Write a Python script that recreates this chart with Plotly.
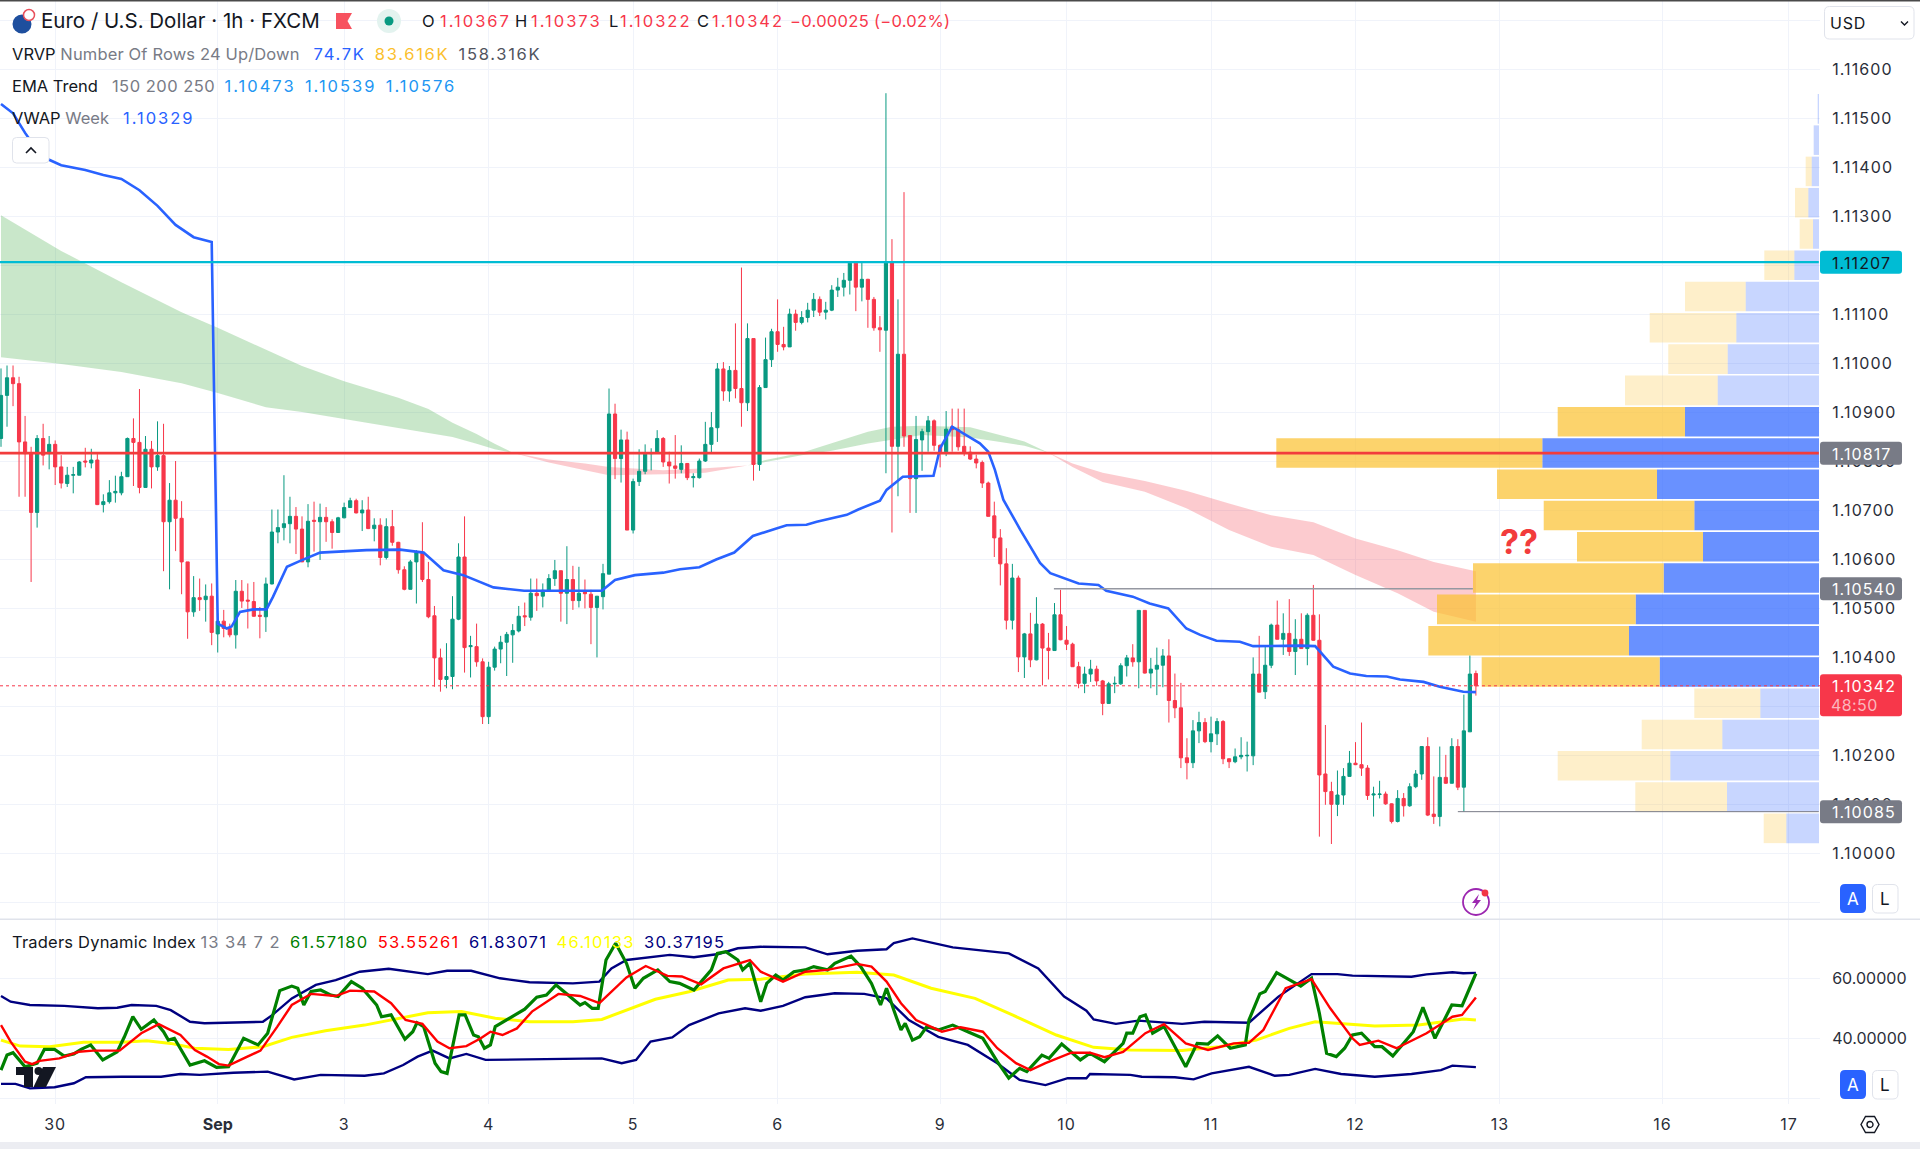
import plotly.graph_objects as go

# ---------- DATA ----------
BASE = 1.10000  # prices below are held as points (1e-5) above this base
open_pts = [847,935,971,959,840,816,696,847,816,835,789,755,772,772,801,797,803,712,718,736,736,769,847,839,747,825,789,812,677,721,684,595,493,522,518,525,448,474,459,446,535,517,514,486,483,550,656,665,673,688,662,595,680,677,686,677,655,685,706,720,695,701,663,670,604,667,635,579,539,595,614,559,485,399,355,361,478,605,422,422,391,279,380,417,431,446,454,485,482,531,525,537,561,577,531,559,516,534,529,502,524,570,897,806,844,660,759,780,816,818,847,799,791,784,796,767,767,801,835,869,989,944,986,949,920,1051,794,951,1008,1065,1039,1034,1101,1084,1094,1109,1131,1105,1109,1150,1156,1170,1205,1156,1172,1131,1073,1068,1207,831,1019,853,765,844,861,883,833,820,871,865,831,819,805,798,756,689,644,591,476,562,401,448,395,468,419,414,487,435,427,381,347,366,376,352,306,346,346,383,399,391,496,368,376,384,403,312,297,195,185,250,267,228,244,269,193,187,197,199,199,366,330,384,466,437,449,412,437,418,486,435,162,126,100,119,157,184,181,174,119,120,121,101,65,112,97,136,162,218,80,75,155,143,218,135,248,367]
close_pts = [935,971,959,840,816,696,847,813,835,789,756,772,773,799,799,803,712,718,736,739,769,847,839,747,825,789,812,677,721,684,595,493,522,518,525,451,474,459,446,535,515,515,484,484,550,656,665,673,688,662,595,678,678,686,677,655,685,706,720,695,701,663,670,604,667,635,579,539,595,614,559,483,399,355,361,478,605,420,424,391,279,380,417,431,447,455,484,483,531,526,537,561,577,531,559,516,531,530,502,525,571,897,806,844,660,759,780,815,818,847,799,791,786,796,767,769,801,835,869,989,944,986,949,920,1051,794,951,1008,1065,1039,1034,1101,1084,1094,1109,1131,1105,1109,1150,1156,1170,1205,1156,1172,1131,1073,1069,1205,831,1019,852,765,845,861,883,833,820,866,865,830,819,805,797,756,688,644,591,476,562,401,448,395,468,419,414,487,436,427,381,347,366,376,352,306,346,347,383,399,391,496,368,376,384,403,312,297,195,185,250,267,228,244,269,193,187,197,200,200,366,329,384,466,437,449,412,437,418,486,435,160,126,100,119,157,184,181,174,118,121,121,101,65,112,97,136,162,218,78,75,155,143,218,135,250,366,342]
high_pts = [990,996,996,973,893,830,854,877,852,843,813,789,789,801,828,826,815,733,762,771,779,849,888,948,852,842,882,877,756,801,719,595,566,561,549,551,490,497,469,558,558,551,554,503,563,702,702,772,728,707,688,713,718,714,707,682,687,716,726,724,721,728,684,684,684,701,636,586,599,619,676,595,505,418,429,525,633,688,444,469,398,391,422,444,452,468,505,512,561,561,551,570,599,577,627,587,585,559,538,525,591,949,918,865,861,765,825,835,827,864,850,820,854,833,797,776,806,881,901,1001,1003,995,1082,1196,1082,1051,956,1053,1071,1131,1075,1112,1110,1107,1124,1144,1137,1126,1160,1175,1185,1207,1205,1206,1173,1136,1097,1552,1254,1131,1350,853,893,867,893,886,835,903,908,908,908,831,814,802,759,718,662,623,591,567,450,491,523,470,450,511,538,464,430,391,381,395,383,354,350,361,388,405,427,496,496,399,420,417,437,367,348,235,272,289,276,279,276,272,194,214,237,228,400,444,423,469,516,490,519,478,490,490,548,488,262,146,169,174,209,227,267,180,136,148,126,102,129,123,143,170,218,237,157,218,201,235,233,324,404,373]
low_pts = [830,871,913,728,728,554,665,792,784,752,745,748,735,772,788,786,711,696,714,716,731,769,750,735,747,745,781,576,539,617,529,438,483,495,473,425,410,441,441,418,501,459,483,439,452,549,633,639,633,611,595,584,616,599,636,622,654,684,706,694,658,662,637,588,600,628,571,537,539,510,554,480,340,330,337,335,476,369,359,381,264,264,373,388,362,389,451,464,475,495,502,537,546,473,468,497,502,500,427,400,498,570,764,757,660,653,750,774,782,818,789,755,765,776,762,747,765,799,816,840,924,922,929,871,903,761,781,951,993,1024,1027,1034,1067,1080,1084,1095,1097,1090,1107,1136,1137,1141,1107,1127,1073,1067,1024,776,655,729,830,695,695,781,820,822,788,811,820,822,811,803,786,746,688,605,547,457,457,370,358,380,394,343,355,414,435,415,381,337,327,350,342,282,305,327,344,361,381,337,367,337,323,339,267,276,174,151,174,225,225,206,221,182,174,184,192,167,180,329,315,378,437,405,403,364,418,384,434,34,99,19,76,99,157,180,158,109,75,112,99,61,63,75,95,133,150,76,60,55,142,143,129,85,248,322]

ema_idx  = [0,10,20,30,36,44,50,57,66,71,75,79,82,85,91,97,101,110,117,124,127,133,138,144,148,153,161,166,170,174,178,183,190,197,204,211,218,225,232,238,245]
ema_fast = [1303,1230,1166,1105,1073,1028,995,964,930,907,879,856,836,818,798,782,772,774,777,792,803,818,838,861,871,873,870,854,841,818,789,758,738,704,660,626,609,568,531,493,473]
ema_slow = [1013,999,983,960,940,911,901,887,868,858,850,836,825,818,804,796,789,782,786,792,799,813,822,837,844,854,849,840,832,818,796,777,760,740,714,690,676,643,619,595,576]

vwap_idx = [0,2,4,6,8,10,14,17,20,23,26,29,32,35,36,37.5,38.3,39.7,41.9,44.1,45.2,47.5,49.7,53,60.7,66.3,70.2,73.5,76.8,81.8,86.9,99.8,102,105.3,110,112.8,116,118.8,121.8,124.9,128.8,130.5,133.8,135.5,140.5,142.4,146,147.1,149.8,154.9,156,158,162.6,164,165.1,166.5,169.3,172.6,174.3,177.6,179,182.3,183.6,188,190.8,193.9,196.9,199.2,201.9,205.8,208,215.8,218.3,221.3,224.1,226.8,230.2,232.4,236.3,239,242.9,245]
vwap_pts = [1530,1511,1471,1436,1416,1405,1395,1385,1377,1354,1322,1283,1258,1248,469,459,463,493,498,498,524,585,597,614,619,620,614,578,568,543,536,536,558,568,573,580,584,600,614,648,663,670,671,677,691,702,720,742,769,771,827,871,837,820,783,722,661,593,572,557,551,548,536,524,510,500,459,446,434,432,423,424,423,381,367,362,361,355,350,340,330,329]

rsi_idx = [0,1,2,3.1,4,5,6,7.2,8.9,10.5,12.1,13.3,14.9,16.9,19.3,20.5,21.9,23.3,25.4,27,27.8,28.8,31.4,33.8,35.8,37.8,40.3,42.7,44.3,46.3,48.3,49.3,50.3,51.5,53.1,54.8,56,58.2,60,62.4,63.2,64.8,67.1,68.4,69.1,70.2,72.1,73.1,74.1,76.1,77.1,78.5,79.3,80.3,81.3,82.1,84.5,87,89,90.6,92.2,94.6,96.2,97,98.2,99.2,100.5,102.1,103.9,105.3,106.7,109.1,111.1,112.7,115.1,118,119,120.4,122.4,123.2,124.4,126.2,127.2,128.7,129.9,131.7,133.6,135,137.3,138.5,141.2,142.8,144.6,146.1,147.1,148.3,149.5,150.2,151.4,152.6,153.8,155.7,158.1,160.6,163.1,165.5,167.4,169.2,170.4,172.9,174.1,176.2,177.8,179.3,180.9,183.3,186.4,187,188,189.2,190.1,191.3,193.2,196.8,198.7,200.5,202.1,204.2,206.7,207.3,209.1,210,211.9,214.6,215.9,217.7,219,220.2,221.8,223.2,224.5,226,228.2,229.4,231.2,233.7,234.6,236.2,238.2,241,242.7,245]
rsi_val = [29.4,34.4,35.2,32.8,30.5,31.1,31.7,36.3,36.3,34.1,34.8,36.3,37.8,32.8,35.5,40.5,47.2,43,46.1,42.2,39.4,40,31.1,32.5,30.3,30.5,40,37.8,41.7,55.9,57.4,56.7,51.1,55.6,56.1,54.4,53.9,58.9,56.7,51.1,47.2,47.8,39.7,42.2,45.2,43.9,31.7,28.9,28.3,47.8,47.8,41.1,40.5,36.7,37.8,43.9,46.7,49.7,53.7,54.4,57.8,53.9,51.1,51.9,50,50,66.1,71.7,65,56.7,60,62.8,58.9,58.3,56.1,62.8,68.3,68.9,66.1,62.8,65,52.2,58.3,61.1,59.4,62.2,62.8,63.9,62.8,65,67.4,63.9,58.3,51.1,56.7,49.4,42.8,45,39.4,40.5,43.9,42.8,44.4,42.2,40,32.2,26.7,30,28.9,34.4,33.3,38.1,35.5,32.8,35,32.2,38.3,41.7,41.7,47.2,47.8,41.7,43.9,30.5,38.3,38.1,40.8,36.7,37.8,46.1,54.8,55.6,61.9,58.9,57.4,60,48.3,35,33.9,36.7,41.1,41.7,37.2,37.2,34.1,40,42.2,50.3,40,51.1,50.8,61.6]

signal_idx = [0,1.6,4,5.2,6.4,9.7,12.9,15.3,19.7,23.3,26.2,29.8,32.2,34.2,36.2,37.8,40.3,43.1,45.9,48.3,51.5,55.6,58,62,64.8,67.2,70,72.5,74.5,77.3,79.7,81.3,83.3,85.7,88.2,91,92.6,96.2,99.4,103.9,107.1,110.7,113.1,116.3,120,124.4,126.2,129.9,133.6,137.3,142.2,144.6,147.1,149.5,152,156.3,159.4,163.1,165.5,168.6,171,173.5,177.8,180.9,183.3,186.4,190.1,193.2,196.8,200.5,204.8,207.3,209.7,213.4,217.7,220.8,224.5,225.7,228.8,231.8,236.8,241.1,242.7,245]
signal_val = [44.4,38.9,32.2,31.4,32.5,33.3,35.5,35.9,35.9,41.7,44.7,41.1,36.1,33.9,31.4,30.9,33.3,35.9,43.9,51.1,54.8,54.1,55.9,55.6,51.7,46.1,44.8,38.9,36.7,37.4,40,42.2,41.1,43.3,48.9,52.8,54.8,54.1,51.7,60.3,64.1,60.8,60.6,58,63.3,66.1,62.2,58.9,62.2,62.8,64.8,63.9,58.9,51.7,46.1,42.2,43.7,42.2,36.7,31.7,29.4,31.7,35.2,35.2,33.7,35.5,41.7,44.7,38.3,36.1,38.3,38.5,42.8,56.7,59.7,50,40,37.8,39.2,36.7,41.7,47.2,47.8,53.6]

mid_idx = [0,3.2,8.1,13.7,20.1,24.2,28.2,32.2,37.8,43.5,48.3,53.9,60.4,66,70.9,76.5,82.1,87.8,95,99.8,103.9,108.7,114.3,120.8,126.2,133.6,142.2,148.3,154.5,161.8,168,175.3,181.5,187.6,196.2,202.4,208.5,214,218.3,228.2,235.5,242.9,245]
mid_val = [39.4,37.4,37.2,38.7,38.7,39.2,38.3,36.7,36.3,37.2,40.3,42.5,44.4,46.7,48.5,48.9,46.7,45.5,45.5,46.3,49.4,53,55.5,59.4,59.7,61.4,62,61.1,56.7,53.3,47.8,41.1,37,36.1,35.9,37.2,39.4,43.3,45.5,44.1,44.4,46.4,46.1]

upper_idx = [0,1.6,4.8,10.5,16.1,19.3,21.7,25.8,28.2,31.4,33.8,43.5,45.1,48.3,52.3,55.6,59.6,64.4,70.9,74.1,78.1,82.9,87.8,95,99.4,101.4,103.9,107.9,111.1,115.1,119.2,122.4,126.2,133.6,137.3,142.2,147.1,148.3,151.4,158.1,167.4,172.3,176.6,180.3,181.5,185.2,188.9,196.2,199.9,207.3,212.2,217.7,222,224.5,234.3,236.8,241.1,242.9,245]
upper_val = [54.1,52.2,51.1,50.8,50,50.2,51.1,50.8,49.4,45.5,45,45.5,47.8,53.3,57.8,59.4,62.2,63.2,61.4,62.5,62.5,60,58.7,58.3,58.9,63.3,66.1,67,67.8,67,68.1,70,70.5,70.3,68,69.2,69.7,71.7,73.3,70.3,68.3,63.3,53.9,49.2,46.3,44.8,45.9,44.8,45.5,45.2,53.9,61.4,61.4,60.9,60.5,61.3,62,61.7,61.8]

lower_idx = [0,2.4,4.8,8.9,12.1,14.1,20.1,26.6,29.8,33,38.6,44.3,48.7,53.1,60.4,63.6,66.8,69.2,71.7,74.5,77.3,80.5,99.8,103.1,105.5,107.9,111.5,114.3,119.2,123.6,126.2,129.9,133.6,138.5,143.4,147.1,150.8,155.7,160.6,165.5,169.2,173.5,177.2,180.3,180.9,187.6,189.5,195,198.1,201.1,207.3,211.6,214,218.3,222.6,228.2,234.3,239.2,241.1,245]
lower_val = [24.8,24.8,23.3,23.7,25,27,27.2,27.2,28.1,27.8,28.5,28.9,26.3,27.8,27.5,28.3,31.1,33.9,35.9,33.3,34.8,32.8,33.3,31.7,32.8,38.9,40.3,44.4,48.3,50,49.2,50.8,53.7,55,54.8,53.3,46.1,40.5,37.8,31.7,26.1,24.4,26.7,26.7,28.1,27.8,27.2,27,26.3,28.3,30.5,27.5,27.8,29.8,28.1,27.2,28.1,29.4,30.9,30.4]

# volume profile, lowest row first
profile_low, profile_high = 1.10019, 1.11552
vol_blue = [1046,2944,4758,3094,1878,5098,6080,5866,4970,3712,3990,5184,8854,4288,3242,2922,2646,2346,790,192,342,234,170,42]
vol_gold = [723,2934,3603,2579,2112,5696,6422,6358,6102,4032,4819,5120,8512,4074,2966,1901,2771,1942,960,426,426,192,0,0]
value_area_rows = (5, 13)

resistance, poc_level, last_price = 1.11207, 1.10817, 1.10342
swing_high_level, swing_low_level = 1.10540, 1.10085

price_ticks = [1.099,1.100,1.101,1.102,1.103,1.104,1.105,1.106,1.107,1.108,1.109,1.110,1.111,1.112,1.113,1.114,1.115,1.116,1.117]
hidden_price_ticks = (1.099, 1.103, 1.112, 1.117)   # blank or fully covered by a badge in the reference
tdi_ticks = [20,40,60]
date_idx = [9,36,57,81,105,129,156,177,201,225,249,276,297]
date_labels = ['30','Sep','3','4','5','6','9','10','11','12','13','16','17']

# ---------- GEOMETRY ----------
W, H = 1920, 1149
PW = 1820                       # plot right edge in px
PANE = 919; BOT = 1104
STEP = 6.02                     # px per bar
xr = [-1/STEP, (PW-1)/STEP]
def y_px_to_price(y): return 1.10000 + (853.3-y)/48975
yr = [y_px_to_price(PANE), y_px_to_price(0)]
yr2 = [60-(BOT-978.3)/3, 60+(978.3-PANE)/3]
pr = lambda a: [BASE + v/1e5 for v in a]
def py(y): return 1 - y/H
def pxx(x): return x/PW          # paper x runs over the plot width
def price_y(p): return 853.3-(p-1.10000)*48975
FONT = 'Inter'
DARK = '#131722'; GREY = '#787b86'
UP = '#089981'; DOWN = '#f7374a'

fig = go.Figure()

# EMA ribbon, split at crossings
seg_x, seg_f, seg_s = [], [], []
def flush():
    if len(seg_x) > 1:
        up = sum(seg_f) >= sum(seg_s)
        fig.add_trace(go.Scatter(x=seg_x+seg_x[::-1], y=pr(seg_f)+pr(seg_s)[::-1], mode='lines', fill='toself',
            line=dict(width=0), fillcolor='rgba(76,175,80,0.3)' if up else 'rgba(242,54,69,0.26)',
            xaxis='x', yaxis='y', hoverinfo='skip', showlegend=False))
for i, f, s in zip(ema_idx, ema_fast, ema_slow):
    seg_x.append(i); seg_f.append(f); seg_s.append(s)
    if f == s:
        flush(); seg_x, seg_f, seg_s = [i], [f], [s]
flush()

# candles and VWAP
bars = list(range(len(open_pts)))
fig.add_trace(go.Candlestick(x=bars, open=pr(open_pts), high=pr(high_pts), low=pr(low_pts), close=pr(close_pts),
    increasing=dict(line=dict(color=UP, width=1), fillcolor=UP),
    decreasing=dict(line=dict(color=DOWN, width=1), fillcolor=DOWN),
    whiskerwidth=0, xaxis='x3', yaxis='y', showlegend=False, hoverinfo='skip'))
fig.add_trace(go.Scatter(x=vwap_idx, y=pr(vwap_pts), mode='lines', line=dict(color='#2962ff', width=2.6),
    xaxis='x3', yaxis='y', showlegend=False, hoverinfo='skip'))

# volume profile
row_h = (profile_high-profile_low)/len(vol_blue)
row_y = [profile_low+(k+.5)*row_h for k in range(len(vol_blue))]
in_va = [value_area_rows[0] <= k <= value_area_rows[1] for k in range(len(vol_blue))]
fig.add_trace(go.Bar(y=row_y, x=vol_blue, orientation='h', width=row_h*0.945, xaxis='x4', yaxis='y',
    marker=dict(color=['rgba(41,98,255,0.7)' if v else 'rgba(41,98,255,0.26)' for v in in_va], line=dict(width=0)),
    showlegend=False, hoverinfo='skip'))
fig.add_trace(go.Bar(y=row_y, x=vol_gold, base=vol_blue, orientation='h', width=row_h*0.945, xaxis='x4', yaxis='y',
    marker=dict(color=['rgba(251,192,45,0.7)' if v else 'rgba(251,192,45,0.25)' for v in in_va], line=dict(width=0)),
    showlegend=False, hoverinfo='skip'))

# level lines
def level(x, p, color, width, dash='solid'):
    fig.add_trace(go.Scatter(x=x, y=[p, p], mode='lines', line=dict(color=color, width=width, dash=dash),
        xaxis='x5', yaxis='y', showlegend=False, hoverinfo='skip'))
level(xr, last_price, DOWN, 1, 'dot')
level([174.9, 244.5], swing_high_level, '#9598a1', 1.5)
level([242, xr[1]-0.2], swing_low_level, '#787b86', 1)
level([xr[0], xr[1]-0.2], resistance, '#00bcd4', 2.2)
level([xr[0], xr[1]-0.2], poc_level, '#f23c3c', 2.6)

# TDI pane
for x, y, c, w in [(upper_idx, upper_val, '#000080', 2.4), (lower_idx, lower_val, '#000080', 2.4),
                   (mid_idx, mid_val, '#ffff00', 3), (rsi_idx, rsi_val, '#008000', 3.2), (signal_idx, signal_val, '#ff0000', 2.4)]:
    fig.add_trace(go.Scatter(x=x, y=y, mode='lines', line=dict(color=c, width=w), xaxis='x2', yaxis='y2',
        showlegend=False, hoverinfo='skip'))

# ---------- LAYOUT ----------
GRID = '#f0f3fa'
shapes = []; ann = []
def rrect(x0, y0, x1, y1, fill, line=None, r=3, layer='above'):
    p = (f'M{pxx(x0+r)},{py(y0)} L{pxx(x1-r)},{py(y0)} Q{pxx(x1)},{py(y0)} {pxx(x1)},{py(y0+r)} '
         f'L{pxx(x1)},{py(y1-r)} Q{pxx(x1)},{py(y1)} {pxx(x1-r)},{py(y1)} L{pxx(x0+r)},{py(y1)} '
         f'Q{pxx(x0)},{py(y1)} {pxx(x0)},{py(y1-r)} L{pxx(x0)},{py(y0+r)} Q{pxx(x0)},{py(y0)} {pxx(x0+r)},{py(y0)} Z')
    shapes.append(dict(type='path', path=p, xref='paper', yref='paper', fillcolor=fill,
        line=dict(color=line or fill, width=1 if line else 0), layer=layer))
def poly(pts, fill=None, line=None, w=1.5, close=True):
    p = 'M' + ' L'.join(f'{pxx(a)},{py(b)}' for a, b in pts) + (' Z' if close else '')
    shapes.append(dict(type='path', path=p, xref='paper', yref='paper', fillcolor=fill or 'rgba(0,0,0,0)',
        line=dict(color=line or fill, width=w if line else 0), layer='above'))
def circ(cx, cy, r, fill=None, line=None, w=1.5):
    shapes.append(dict(type='circle', xref='paper', yref='paper', x0=pxx(cx-r), x1=pxx(cx+r), y0=py(cy+r), y1=py(cy-r),
        fillcolor=fill or 'rgba(0,0,0,0)', line=dict(color=line or fill, width=w if line else 0), layer='above'))
def txt(x, y, s, size=14, color=DARK, anchor='left', **k):
    ann.append(dict(x=pxx(x), y=py(y), xref='paper', yref='paper', text=s, showarrow=False, xanchor=anchor, yanchor='middle',
        align='left', borderpad=0, borderwidth=0, font=dict(family=FONT, size=size, color=color), **k))
def ls(t, px=1.1): return f'<span style="letter-spacing:{px}px">{t}</span>'
def sp(t, c, px=0): return f'<span style="color:{c};letter-spacing:{px}px">{t}</span>'

# frame pieces
rrect(0, 0, W, 1.4, '#4a4a4a', r=0)
rrect(0, PANE-0.5, W, PANE+1, '#e0e3eb', r=0)
rrect(0, 1142, W, H, '#ecedf2', r=0)

# price badges
for p, fill, tc in [(resistance, '#00bcd4', DARK), (poc_level, '#787b86', '#ffffff'), (swing_high_level, '#787b86', '#ffffff'), (swing_low_level, '#787b86', '#ffffff')]:
    yc = price_y(p)
    rrect(1820, yc-11.5, 1902, yc+11.5, fill)
    txt(1832, yc+0.5, ls(f'{p:.5f}'), 16, tc)
yc = price_y(last_price)
rrect(1820, yc-11.5, 1902, yc+30.5, DOWN)
txt(1832, yc+0.5, ls(f'{last_price:.5f}'), 16, '#ffffff')
txt(1831, yc+19, ls('48:50', 0.4), 16, '#fbb6bd')

# ?? annotation
txt(1519, 541, '<b>??</b>', 34, '#f23c3c', anchor='center')

# legend rows
txt(41, 21, 'Euro / U.S. Dollar · 1h · FXCM', 20.5, DARK)
for x, s, c in [(422,'O',DARK),(440,ls('1.10367',2),DOWN),(515,'H',DARK),(531,ls('1.10373',2),DOWN),(609,'L',DARK),(620,ls('1.10322',2),DOWN),
                (697,'C',DARK),(712,ls('1.10342',2),DOWN),(790,ls('−0.00025 (−0.02%)',0.3),DOWN)]:
    txt(x, 21, s, 16.5, c)
S = '\u00a0\u00a0'
S3 = '\u00a0\u00a0\u00a0'
N = 2.0  # extra spacing of the indicator read-outs
txt(12, 54, sp('VRVP', DARK)+' '+sp('Number Of Rows 24 Up/Down', GREY, 0.15)+S3+sp('74.7K', '#2962ff', 1.7)+S+sp('83.616K', '#fbc02d', 1.7)+S+sp('158.316K', '#50535e', 1.7), 16.5)
txt(12, 86, sp('EMA Trend', DARK)+S3+sp('150 200 250', GREY, 0.5)+S+sp('1.10473', '#2196f3', N)+S+sp('1.10539', '#2196f3', N)+S+sp('1.10576', '#2196f3', N), 16.5)
txt(12, 118, sp('VWAP', DARK)+' '+sp('Week', GREY)+S3+sp('1.10329', '#2962ff', N), 16.5)
T = 1.3
txt(12, 942, sp('Traders Dynamic Index', DARK, 0.2)+' '+sp('13 34 7 2', GREY, 1)+S+sp('61.57180', '#008000', T)+S+sp('53.55261', '#ff0000', T)+S+sp('61.83071', '#000080', T)+S+sp('46.10133', '#ffff00', T)+S+sp('30.37195', '#000080', T), 16.5)

# symbol icon
circ(22, 24, 9.5, '#1e4f9e')
circ(29, 15, 5.5, '#ffffff', '#e8505b', 1.5)
# flag + market dot
poly([(336,13),(352,13),(347.5,21),(352,29),(336,29)], '#f7525f')
circ(389, 21, 12, '#e3f3ef')
circ(389, 21, 4.5, UP)
# collapse button
rrect(12.5, 137.5, 49, 163, '#ffffff', '#e0e3eb', 4)
poly([(26,153),(31,148),(36,153)], None, DARK, 1.6, close=False)
# currency selector
rrect(1824.5, 6.5, 1914, 39, '#ffffff', '#e0e3eb', 5)
txt(1830, 23, ls('USD',0.8), 16, DARK)
poly([(1901,21.5),(1904.5,25),(1908,21.5)], None, DARK, 1.4, close=False)
# A/L buttons
for yt in (884, 1070):
    rrect(1840, yt, 1866, yt+29, '#2962ff', None, 5)
    txt(1853, yt+15, 'A', 17, '#ffffff', anchor='center')
    rrect(1872.5, yt+.5, 1898, yt+29, '#ffffff', '#e0e3eb', 5)
    txt(1885, yt+15, 'L', 17, DARK, anchor='center')
# settings hexagon
poly([(1861,1124.5),(1865.5,1116.5),(1874.5,1116.5),(1879,1124.5),(1874.5,1132.5),(1865.5,1132.5)], None, DARK, 1.4)
circ(1870, 1124.5, 3, None, DARK, 1.4)
# lightning badge
circ(1476, 902, 13, None, '#9c27b0', 1.8)
poly([(1479,894),(1472,903),(1476,903),(1473,910),(1481,900),(1477,900)], '#9c27b0')
circ(1485, 893, 3.4, '#f23645')
# TV logo
poly([(16,1067),(33,1067),(33,1087),(24,1087),(24,1075),(16,1075)], DARK)
circ(38.5, 1071, 4, DARK)
poly([(43,1067),(56,1067),(46,1087),(33.5,1087)], DARK)

TICKFONT = dict(family=FONT, size=16, color='#2a2e39')
xbase = dict(range=xr, showgrid=False, zeroline=False, showticklabels=False, ticks='', fixedrange=True, showline=False)
fig.update_layout(
    width=W, height=H, margin=dict(l=0, r=W-PW, t=0, b=0), paper_bgcolor='#ffffff', plot_bgcolor='#ffffff',
    showlegend=False, hovermode=False, dragmode=False, barmode='overlay', boxgap=0.25,
    font=dict(family=FONT, size=16, color='#2a2e39'),
    xaxis=dict(xbase, domain=[0, 1], anchor='y', showgrid=True, gridcolor=GRID, gridwidth=1, tickmode='array', tickvals=date_idx, rangeslider=dict(visible=False)),
    xaxis2=dict(xbase, domain=[0, 1], anchor='y2', showgrid=True, gridcolor=GRID, gridwidth=1, tickmode='array', tickvals=date_idx,
                ticktext=['<b>Sep</b>' if d == 'Sep' else ls(d, 1) for d in date_labels],
                showticklabels=True, ticks='outside', ticklen=6, tickcolor='rgba(0,0,0,0)', tickfont=TICKFONT),
    xaxis3=dict(xbase, overlaying='x', anchor='y', rangeslider=dict(visible=False)),
    xaxis4=dict(xbase, overlaying='x', anchor='y', range=[(PW-1)*32, -32]),
    xaxis5=dict(xbase, overlaying='x', anchor='y'),
    yaxis=dict(domain=[1-PANE/H, 1], range=yr, side='right', anchor='x', showgrid=True, gridcolor=GRID, gridwidth=1, zeroline=False, fixedrange=True,
               tickmode='array', tickvals=price_ticks, ticktext=['' if t in hidden_price_ticks else ls(f'{t:.5f}') for t in price_ticks],
               ticks='outside', ticklen=8, tickcolor='rgba(0,0,0,0)', tickfont=TICKFONT, showline=False),
    yaxis2=dict(domain=[1-BOT/H, 1-PANE/H], range=yr2, side='right', anchor='x2', showgrid=True, gridcolor=GRID, gridwidth=1, zeroline=False, fixedrange=True,
                tickmode='array', tickvals=tdi_ticks, ticktext=['', '40.00000', '60.00000'],
                ticks='outside', ticklen=8, tickcolor='rgba(0,0,0,0)', tickfont=TICKFONT, showline=False),
    shapes=shapes, annotations=ann,
)
fig.write_html('out.html', config=dict(displayModeBar=False, responsive=False),
               post_script="document.body.style.margin='0';document.body.style.overflow='hidden';")
